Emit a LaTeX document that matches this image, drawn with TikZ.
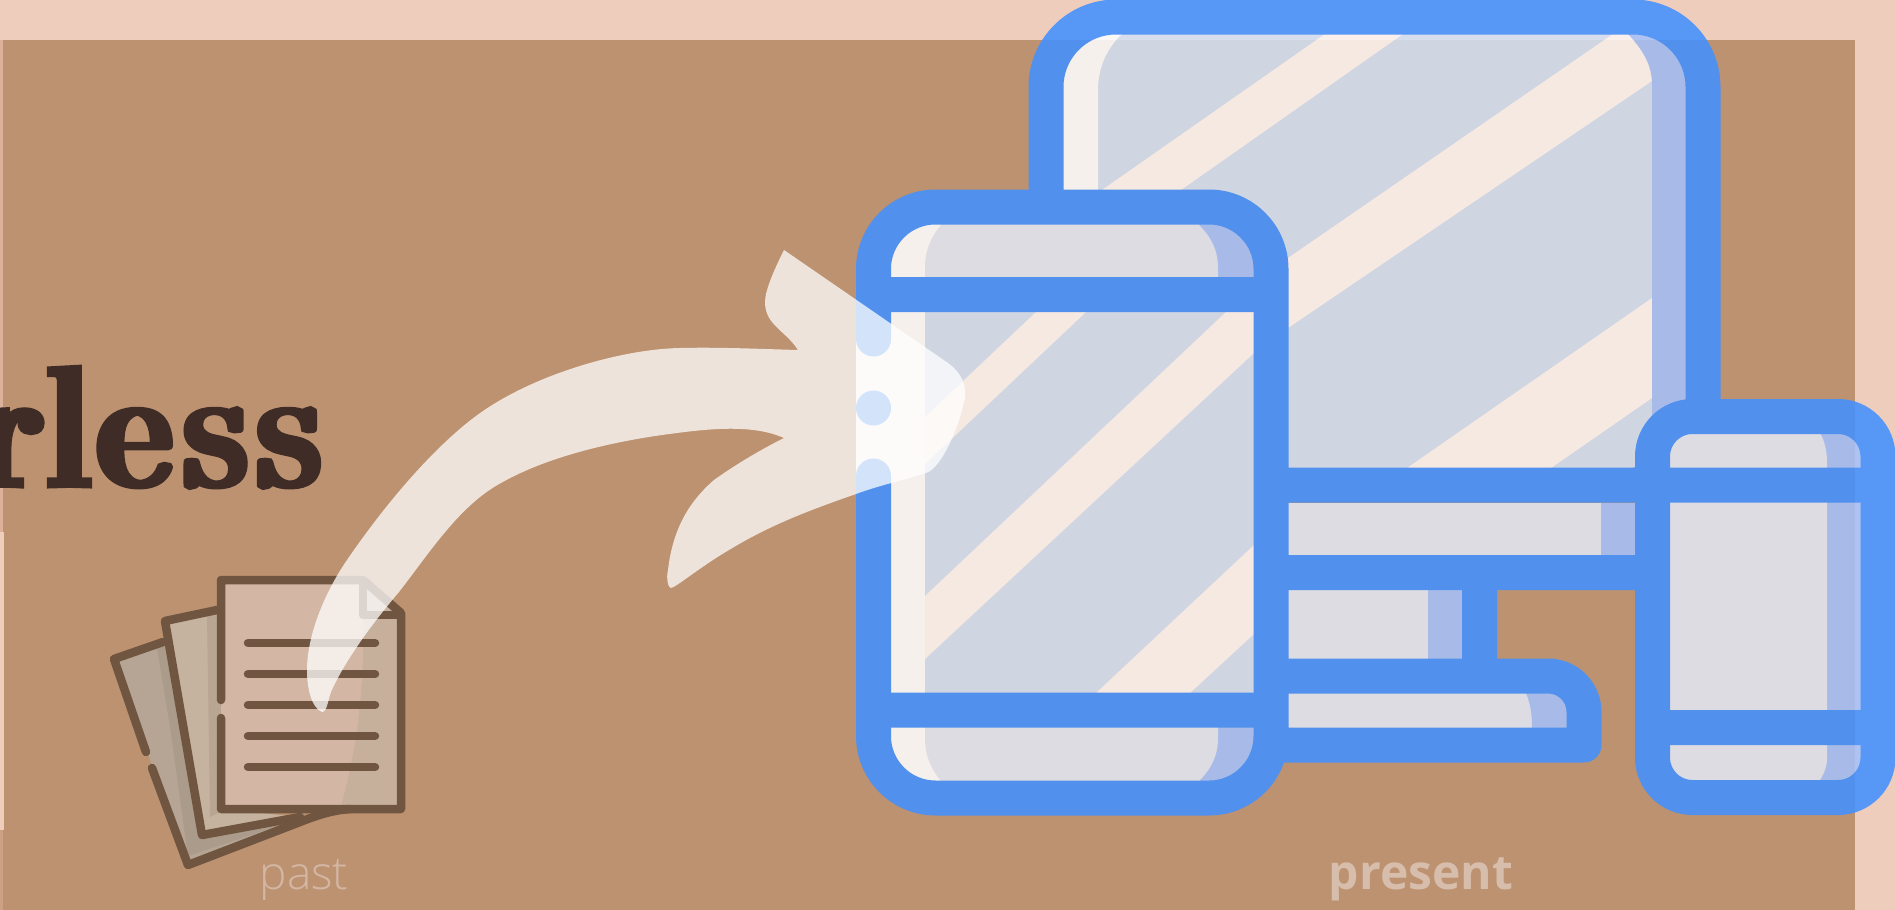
\documentclass[tikz,border=0pt]{standalone}
\usepackage{fontspec}
\newfontfamily\lightface{Open Sans Light}
\newfontfamily\boldface{Open Sans}
\newfontfamily\headface[Extension=.otf,FakeStretch=.25,FakeBold=1.6]{lmroman10-bold}
\definecolor{pinkbg}{HTML}{EFCDBD}
\definecolor{brownbg}{HTML}{BD9270}
\definecolor{edgeup}{HTML}{DDB09A}
\definecolor{edgelow}{HTML}{CFA184}
\definecolor{blueline}{HTML}{4190FF}
\definecolor{screenc}{HTML}{D3E0F4}
\definecolor{stripec}{HTML}{FFF6F4}
\definecolor{shadec}{HTML}{A5C2FA}
\definecolor{greyc}{HTML}{E3E7F5}
\definecolor{inkc}{HTML}{3F2C26}
\definecolor{paperline}{HTML}{705540}
\definecolor{sheetfront}{HTML}{D3B6A3}
\definecolor{sheetfrontd}{HTML}{C6B09C}
\definecolor{sheetmid}{HTML}{C5B29F}
\definecolor{sheetmidd}{HTML}{B8A693}
\definecolor{sheetback}{HTML}{B6A594}
\definecolor{sheetbackd}{HTML}{AB9B8A}
\tikzset{
  bluestroke/.style={draw=blueline,line width=35pt},
  paperstroke/.style={draw=paperline,line width=8.5pt,line cap=round,line join=round},
  arrowfill/.style={fill=white,fill opacity=.75},
}
\begin{document}
\begin{tikzpicture}[x=1pt,y=-1pt]
\useasboundingbox (0,0) rectangle (1895,910);
\fill[pinkbg] (0,0) rectangle (1895,910);
\fill[brownbg] (0,40) rectangle (1855,910);
\fill[edgeup] (0,40) rectangle (3,532);
\fill[pinkbg] (0,532) rectangle (4,830);
\fill[edgelow] (0,830) rectangle (3,910);

% heading fragment
\node[anchor=base east,inner sep=0pt,text=inkc,font=\headface\fontsize{174}{174}\selectfont,xscale=3.35] (head) at (323,487) {rl\kern1.6pt e\kern2.8pt s\kern2.2pt s};

% papers
\fill[sheetback] (114,659) -- (163,642) -- (202,835) -- (290,822) -- (188,865) -- cycle;
\fill[sheetbackd] (157,648) -- (166,642) -- (202,835) -- (290,822) -- (188,856) -- (170,727) -- cycle;
\fill[sheetmid] (165,621) -- (221,610) -- (221,809) -- (300,817) -- (202,835) -- cycle;
\fill[sheetmidd] (207,615) -- (221,610) -- (221,812) -- (210,817) -- cycle;
\fill[sheetfrontd] (221,580) -- (363,580) -- (401,613) -- (401,809) -- (221,809) -- cycle;
\fill[sheetfront] (221,580) -- (363,580) -- (363,615) .. controls (364,660) and (363,730) .. (340,809) -- (221,809) -- cycle;
\draw[paperstroke] (146,752) -- (114,659) -- (163,642);
\draw[paperstroke] (152,768) -- (188,865) -- (300,822) .. controls (320,814) and (335,810) .. (350,809);
\draw[paperstroke] (217,610) -- (165,621) -- (202,835) -- (300,817);
\draw[paperstroke] (221,700) -- (221,580) -- (363,580) -- (401,613) -- (401,809) -- (221,809) -- (221,718);
\draw[paperstroke] (363,582) -- (363,615) -- (400,615);
\foreach \ly in {643,674,705,736,767} \draw[paperstroke] (248,\ly) -- (375,\ly);

% devices
\begin{scope}[transparency group,opacity=.87]
  % monitor
  \begin{scope}
    \clip[rounded corners=70pt] (1046,17) rectangle (1703,485);
    \fill[screenc] (1046,17) rectangle (1703,485);
    \fill[stripec] (1325,34) -- (1403,34) -- (1181,190) -- (1102,190) -- cycle;
    \fill[stripec] (1613,34) -- (1660,34) -- (1652,81) -- (1288,328) -- (1288,258) -- cycle;
    \fill[stripec] (1652,298) -- (1652,398) -- (1551,468) -- (1407,468) -- cycle;
    \fill[white] (1040,10) -- (1122,10) -- (1122,34) .. controls (1105,50) and (1098,70) .. (1098,90) -- (1098,490) -- (1040,490) -- cycle;
    \fill[shadec] (1710,10) -- (1626,10) -- (1628,34) .. controls (1643,50) and (1652,65) .. (1652,85) -- (1652,490) -- (1710,490) -- cycle;
  \end{scope}
  \draw[bluestroke,rounded corners=70pt] (1046,17) rectangle (1703,485);
  % monitor panels
  \fill[greyc] (1271,503) rectangle (1653,555);
  \fill[shadec] (1601,503) rectangle (1653,555);
  \fill[greyc] (1271,589) rectangle (1462,659);
  \fill[shadec] (1428,589) rectangle (1462,659);
  \fill[greyc] (1271,676) -- (1548,676) arc[start angle=90,end angle=0,radius=36pt] -- (1584,745) -- (1271,745) -- cycle;
  \fill[shadec] (1526,693) .. controls (1531,705) and (1532,716) .. (1532,728) -- (1584,728) -- (1584,693) -- cycle;
  \draw[bluestroke] (1271,572.5) -- (1652,572.5);
  \draw[bluestroke] (1479.5,572) -- (1479.5,676);
  \draw[bluestroke,line join=round] (1271,676) -- (1548,676) arc[start angle=90,end angle=0,radius=36pt] -- (1584,745) -- (1271,745);
  % tablet phone
  \begin{scope}
    \clip[rounded corners=62pt] (873,207) rectangle (1271,798);
    \fill[white] (873,207) rectangle (1271,798);
    \fill[screenc] (925,294) rectangle (1271,710);
    \fill[stripec] (1036,312) -- (1086,312) -- (925,464) -- (925,417) -- cycle;
    \fill[stripec] (1226,312) -- (1254,312) -- (1254,353) -- (925,659) -- (925,596) -- cycle;
    \fill[stripec] (1254,545) -- (1254,634) -- (1190,693) -- (1096,693) -- cycle;
    \fill[shadec] (1190,207) rectangle (1271,294);
    \fill[shadec] (1190,710) rectangle (1271,798);
    \fill[greyc] (925,294) -- (925,268) .. controls (925,250) and (931,237) .. (941,225) -- (941,207) -- (1199,207) -- (1199,225) .. controls (1211,237) and (1218,250) .. (1218,268) -- (1218,294) -- cycle;
    \fill[greyc] (925,710) -- (925,738) .. controls (925,756) and (931,769) .. (941,781) -- (941,798) -- (1199,798) -- (1199,781) .. controls (1211,769) and (1218,756) .. (1218,738) -- (1218,710) -- cycle;
  \end{scope}
  \fill[white] (856,330) rectangle (891,480);
  \draw[bluestroke,line cap=round,rounded corners=62pt] (873.5,339) -- (873.5,207) -- (1271,207) -- (1271,798) -- (873.5,798) -- (873.5,476);
  \fill[blueline] (873.5,408) circle[radius=17.5pt];
  \draw[bluestroke] (873,294.5) -- (1271,294.5);
  \draw[bluestroke] (873,710) -- (1271,710);
  % small phone
  \begin{scope}
    \clip[rounded corners=40pt] (1652.5,416.5) rectangle (1878,797.5);
    \fill[shadec] (1652,416) rectangle (1878,798);
    \fill[greyc] (1652,416) -- (1815,416) -- (1820,433) .. controls (1825,442) and (1827,452) .. (1827,462) -- (1827,760) .. controls (1827,765) and (1825,772) .. (1820,780) -- (1815,798) -- (1652,798) -- cycle;
  \end{scope}
  \draw[bluestroke,rounded corners=40pt] (1652.5,416.5) rectangle (1878,797.5);
  \draw[bluestroke] (1652,485) -- (1878,485);
  \draw[bluestroke] (1652,727.5) -- (1878,727.5);
\end{scope}

% arrow
\fill[arrowfill] (784,250)
  .. controls (775,268) and (765,290) .. (765,302)
  .. controls (765,325) and (785,330) .. (798,350)
  .. controls (760,349) and (720,347) .. (680,348)
  .. controls (625,349) and (540,372) .. (483,411)
  .. controls (445,437) and (395,490) .. (347,560)
  .. controls (325,592) and (307,635) .. (307,670)
  .. controls (307,690) and (312,708) .. (322,712)
  .. controls (327,712) and (328,700) .. (331,692)
  .. controls (345,660) and (375,620) .. (399,592)
  .. controls (430,552) and (460,505) .. (501,483)
  .. controls (550,455) and (620,440) .. (677,433)
  .. controls (715,428) and (755,425) .. (784,438)
  .. controls (760,450) and (735,465) .. (714,480)
  .. controls (685,505) and (672,535) .. (668,570)
  .. controls (666,578) and (668,588) .. (671,588)
  .. controls (675,588) and (700,567) .. (729,550)
  .. controls (770,525) and (810,510) .. (856,494)
  .. controls (880,485) and (905,480) .. (926,473)
  .. controls (942,468) and (960,425) .. (965,397)
  .. controls (966,382) and (960,372) .. (948,363)
  -- cycle;

% labels
\node[anchor=base,inner sep=0pt,text=sheetfront,font=\lightface\fontsize{46}{46}\selectfont] (past) at (304,889) {past};
\node[anchor=base,inner sep=0pt,text=sheetfront!90!white,font=\boldface\bfseries\fontsize{48}{48}\selectfont] (present) at (1421,889) {present};
\end{tikzpicture}
\end{document}
